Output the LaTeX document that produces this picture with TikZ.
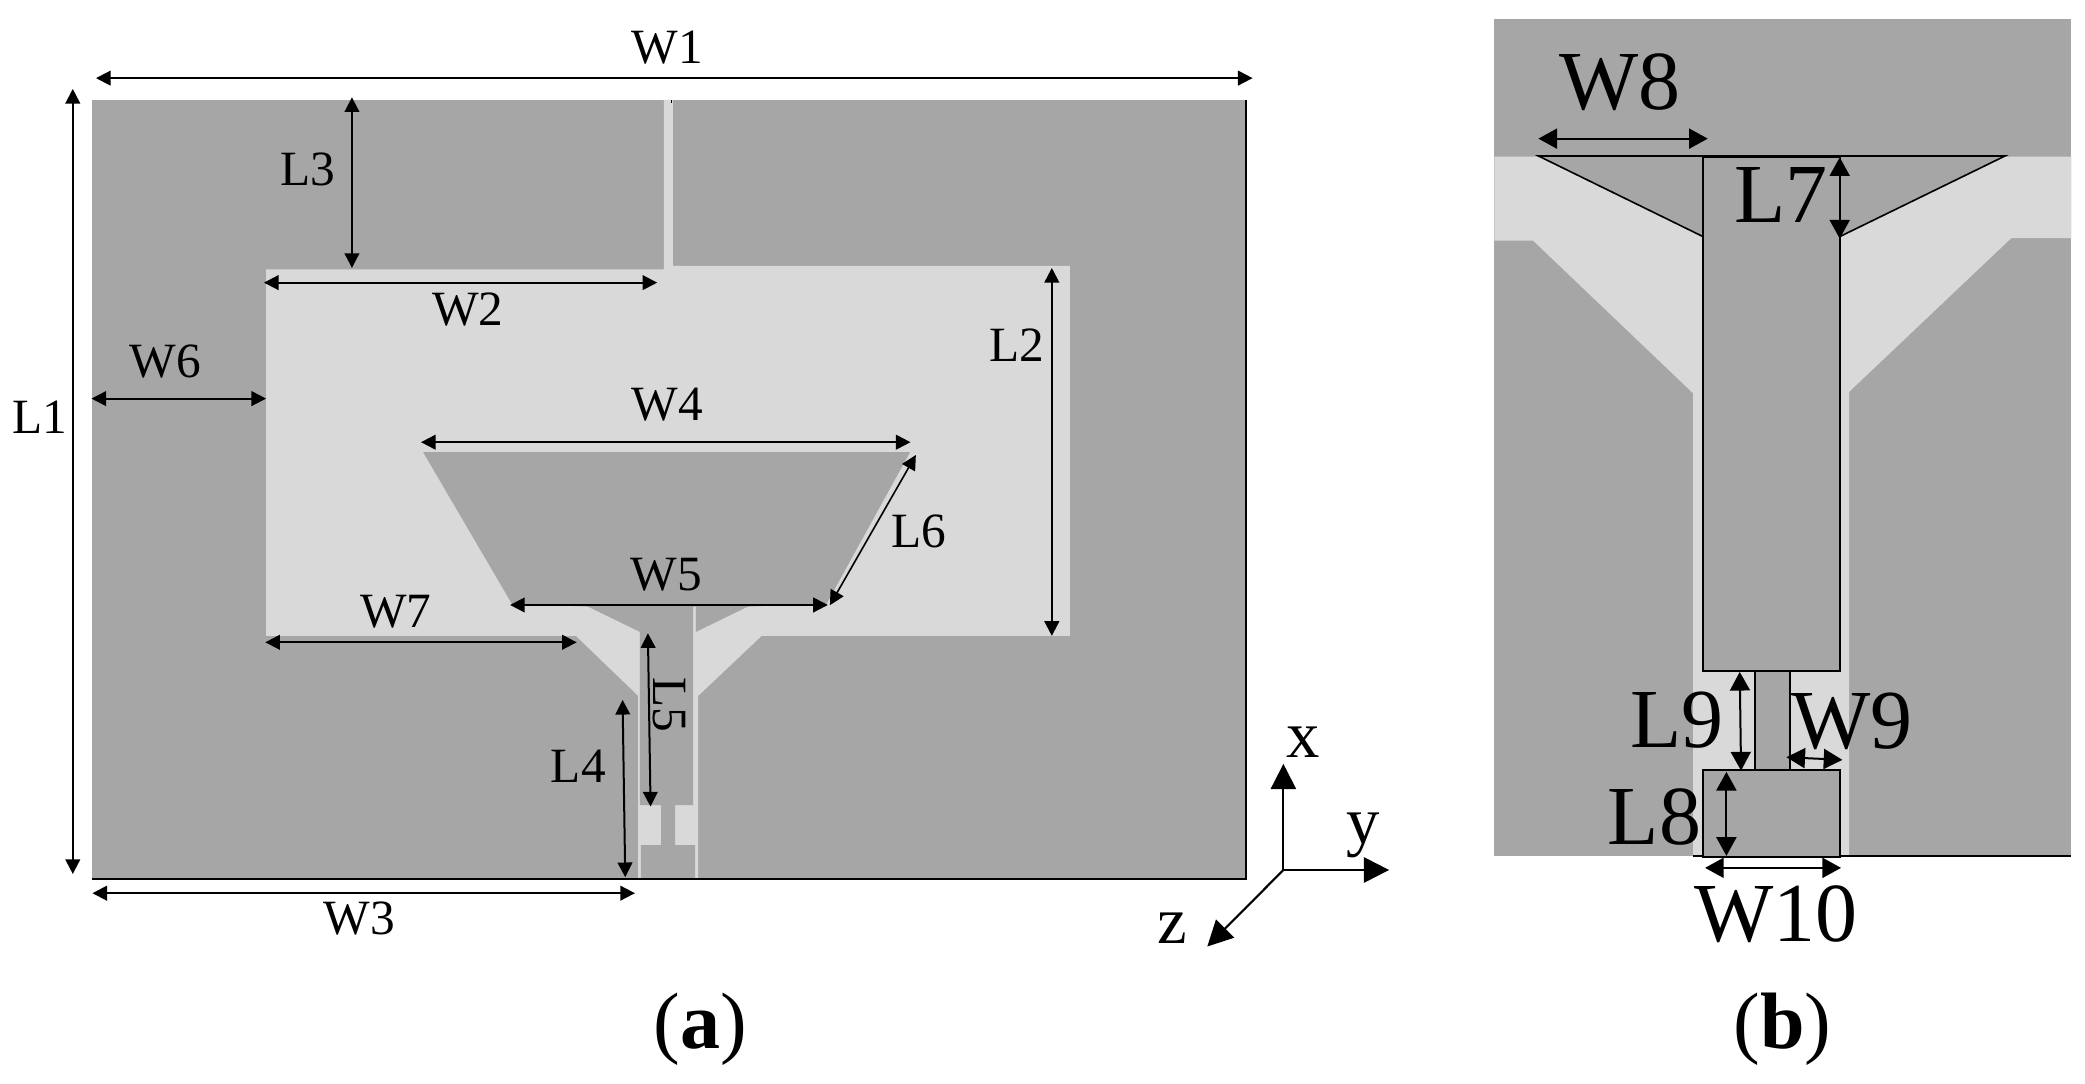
\documentclass[tikz,border=0pt]{standalone}
\usepackage{fontspec}
\setmainfont{Liberation Serif}
\usepackage{xcolor}
\usetikzlibrary{arrows.meta}
\definecolor{metal}{HTML}{A6A6A6}
\definecolor{slot}{HTML}{D9D9D9}
\tikzset{
  metalfill/.style={fill=metal,draw=none},
  slotfill/.style={fill=slot,draw=none},
  outline/.style={draw=black,line width=1.5pt},
  dim/.style={<->,>={Triangle[length=11pt,width=11pt]},line width=1.5pt},
  dimb/.style={<->,>={Triangle[length=14pt,width=15pt]},line width=1.5pt},
  axis/.style={->,>={Triangle[length=19pt,width=19pt]},line width=1.6pt},
  lbl/.style={inner sep=0pt,font=\fontsize{37}{40}\selectfont},
  lblb/.style={inner sep=0pt,font=\fontsize{63}{66}\selectfont},
  axlbl/.style={inner sep=0pt,font=\fontsize{50}{54}\selectfont},
  caplbl/.style={inner sep=0pt,font=\fontsize{60}{64}\selectfont},
}
\begin{document}
\begin{tikzpicture}[x=1pt,y=-1pt]
   \useasboundingbox (0,0) rectangle (1564,812.4);
   % panel (a)
   \fill[metalfill] (68.8,75) rectangle (934.7,659);
   \fill[slotfill] (498,75) -- (504.7,75) -- (504.7,199.5) -- (802.6,199.5) -- (802.6,477)
      -- (571.3,477) -- (523.7,522) -- (523.7,659) -- (478.7,659) -- (478.7,522) -- (432,477)
      -- (199.6,477) -- (199.6,202) -- (498,202) -- cycle;
   \fill[metalfill] (317.4,339.2) -- (682.6,339.2) -- (620,453) -- (561,455) -- (522,474) -- (522,455)
      -- (520,455) -- (520,604) -- (506.5,604) -- (506.5,634) -- (521.5,634) -- (521.5,659)
      -- (480.7,659) -- (480.7,634) -- (496,634) -- (496,604) -- (480,604) -- (480,474)
      -- (441,455) -- (384,453) -- cycle;
   \draw[line width=1.5pt] (934.7,75) -- (934.7,659.4);
   \draw[line width=1.6pt] (68.8,659.4) -- (935.4,659.4);
   \draw[line width=1pt] (503.5,75) -- (503.5,77);
   % panel (b)
   \fill[metalfill] (1121,14) rectangle (1553.8,642);
   \fill[slotfill] (1121,117.5) -- (1553.8,117.5) -- (1553.8,178.7) -- (1508.6,178.7) -- (1387,294)
      -- (1387,642) -- (1270,642) -- (1270,295) -- (1150,180.5) -- (1121,180.5) -- cycle;
   \fill[metalfill] (1154,117.5) -- (1504,117.5) -- (1380,177.5) -- (1277.5,177.5) -- cycle;
   \draw[outline,fill=metal] (1277.5,117.5) rectangle (1380,503);
   \draw[outline,fill=metal] (1316.5,503) rectangle (1342.7,577.6);
   \draw[outline,fill=metal] (1277.5,577.6) rectangle (1380,642.6);
   \draw[line width=1.2pt] (1277.5,177.5) -- (1154,117) -- (1504,117) -- (1380,177.5);
   \draw[line width=1.5pt] (1380,642) -- (1553.8,642) (1270,642) -- (1277.5,642);
   % dimension ends
   \coordinate (w1a) at (72,58.6);      \coordinate (w1b) at (939.6,58.6);
   \coordinate (l1a) at (54.6,66.7);    \coordinate (l1b) at (54.6,655.6);
   \coordinate (l3a) at (264,73);       \coordinate (l3b) at (264,201);
   \coordinate (w2a) at (198,212);      \coordinate (w2b) at (493,212);
   \coordinate (w6a) at (68.6,299);     \coordinate (w6b) at (199.6,299);
   \coordinate (l2a) at (789,201);      \coordinate (l2b) at (789,477);
   \coordinate (w4a) at (315.8,331.7);  \coordinate (w4b) at (683,331.7);
   \coordinate (l6a) at (687,341.3);    \coordinate (l6b) at (622.5,454);
   \coordinate (w5a) at (382.6,453.8);  \coordinate (w5b) at (621,453.8);
   \coordinate (w7a) at (199,481.8);    \coordinate (w7b) at (432.6,481.8);
   \coordinate (l5a) at (486,475);      \coordinate (l5b) at (488,605);
   \coordinate (l4a) at (467,525);      \coordinate (l4b) at (469,658);
   \coordinate (w3a) at (69.3,670);     \coordinate (w3b) at (476.3,670);
   \coordinate (w8a) at (1154,104);     \coordinate (w8b) at (1281,104);
   \coordinate (l7a) at (1380,118);     \coordinate (l7b) at (1380,179);
   \coordinate (l9a) at (1305,504);     \coordinate (l9b) at (1306,578);
   \coordinate (w9a) at (1340,568);     \coordinate (w9b) at (1382,570);
   \coordinate (l8a) at (1295,579);     \coordinate (l8b) at (1295,642);
   \coordinate (w10a) at (1279,651);    \coordinate (w10b) at (1381,651);
   \coordinate (orig) at (962.7,652.6); \coordinate (xtip) at (962.7,573);
   \coordinate (ytip) at (1042,652.6);  \coordinate (ztip) at (905.6,710);
   \path[dim]
      (w1a) edge (w1b)
      (l1a) edge (l1b)
      (l3a) edge (l3b)
      (w2a) edge (w2b)
      (w6a) edge (w6b)
      (l2a) edge (l2b)
      (w4a) edge (w4b)
      (l6a) edge[line width=1.2pt] (l6b)
      (w5a) edge (w5b)
      (w7a) edge (w7b)
      (l5a) edge (l5b)
      (l4a) edge (l4b)
      (w3a) edge (w3b);
   \path[dimb]
      (w8a) edge (w8b)
      (l7a) edge (l7b)
      (l9a) edge (l9b)
      (w9a) edge (w9b)
      (l8a) edge (l8b)
      (w10a) edge (w10b);
   \path[axis]
      (orig) edge (xtip)
             edge (ytip)
             edge (ztip);
   % labels
   \node[lbl] (w1) at (500.6,35.4) {W1};
   \node[lbl] (l1) at (30,313) {L1};
   \node[lbl] (l3) at (231,127) {L3};
   \node[lbl] (w2) at (351,232) {W2};
   \node[lbl] (w6) at (124,271) {W6};
   \node[lbl] (l2) at (763,259) {L2};
   \node[lbl] (w4) at (500.6,303.5) {W4};
   \node[lbl] (l6) at (689,398.4) {L6};
   \node[lbl] (w5) at (500,431.3) {W5};
   \node[lbl] (w7) at (297,459) {W7};
   \node[lbl,rotate=-90] (l5) at (502,529) {L5};
   \node[lbl] (l4) at (433.8,575) {L4};
   \node[lbl] (w3) at (269.5,688.7) {W3};
   \node[lblb] (w8) at (1215,62) {W8};
   \node[lblb] (l7) at (1336,146) {L7};
   \node[lblb] (l9) at (1258,540) {L9};
   \node[lblb] (w9) at (1389,541) {W9};
   \node[lblb] (l8) at (1241,613) {L8};
   \node[lblb] (w10) at (1332,686) {W10};
   \node[axlbl] (xl) at (977.6,557) {x};
   \node[axlbl] (yl) at (1022.6,627) {y};
   \node[axlbl] (zl) at (879.7,696) {z};
   \node[caplbl] (capa) at (525.4,772) {(\textbf{a})};
   \node[caplbl] (capb) at (1337,772) {(\textbf{b})};
\end{tikzpicture}
\end{document}
